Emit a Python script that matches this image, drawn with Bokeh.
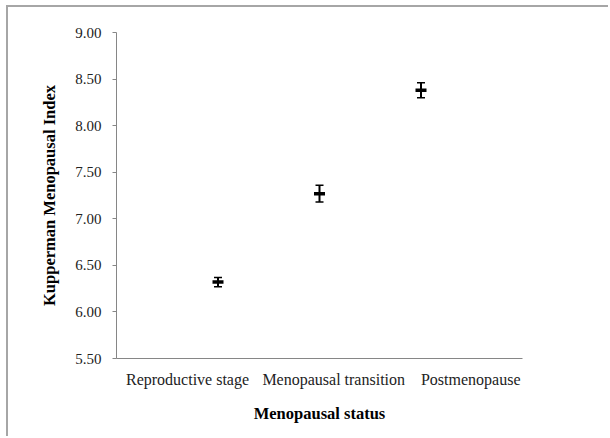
from bokeh.plotting import figure
from bokeh.models import Whisker, ColumnDataSource, FixedTicker, NumeralTickFormatter, Range1d
from bokeh.embed import file_html
from bokeh.resources import INLINE

categories = ["Reproductive stage", "Menopausal transition", "Postmenopause"]
x_pos = [1, 2, 3]
means = [6.32, 7.27, 8.38]
errors = [0.05, 0.09, 0.08]
y_ticks = [5.5, 6.0, 6.5, 7.0, 7.5, 8.0, 8.5, 9.0]

FONT = "Liberation Serif"

# where the category captions sit under the axis (x-axis units, layout only)
caption_pos = [0.70, 2.14, 3.49]

src = ColumnDataSource(dict(
    x=x_pos, y=means,
    lower=[m - e for m, e in zip(means, errors)],
    upper=[m + e for m, e in zip(means, errors)],
))

W, H = 602, 431
p = figure(width=W, height=H, output_backend="svg", toolbar_location=None,
           x_range=Range1d(0, 4), y_range=Range1d(5.5, 9.0),
           min_border_left=108, min_border_top=25, min_border_right=88,
           min_border_bottom=80)
p.margin = (5, 0, 0, 6)
p.styles = {"border-left": "2px solid #a6a6a6", "border-top": "2px solid #a6a6a6"}
p.outline_line_color = None
p.grid.visible = False
p.background_fill_color = "white"
p.border_fill_color = "white"

# y axis
p.yaxis.ticker = FixedTicker(ticks=y_ticks)
p.yaxis.formatter = NumeralTickFormatter(format="0.00")
p.yaxis.axis_line_color = "#868686"
p.yaxis.major_tick_line_color = "#868686"
p.yaxis.major_tick_out = 4
p.yaxis.major_tick_in = 0
p.yaxis.minor_tick_line_color = None
p.yaxis.major_label_text_font = FONT
p.yaxis.major_label_text_font_size = "15px"
p.yaxis.major_label_text_color = "#222222"
p.yaxis.major_label_standoff = 11
p.yaxis.axis_label = "Kupperman Menopausal Index"
p.yaxis.axis_label_text_font = FONT
p.yaxis.axis_label_text_font_style = "bold"
p.yaxis.axis_label_text_font_size = "16.5px"
p.yaxis.axis_label_text_color = "black"
p.yaxis.axis_label_standoff = 13

# x axis: line plus category captions
p.xaxis.ticker = FixedTicker(ticks=caption_pos)
p.xaxis.major_label_overrides = {c: name for c, name in zip(caption_pos, categories)}
p.xaxis.axis_line_color = "#868686"
p.xaxis.major_tick_line_color = None
p.xaxis.major_tick_out = 0
p.xaxis.major_tick_in = 0
p.xaxis.minor_tick_line_color = None
p.xaxis.major_label_text_font = FONT
p.xaxis.major_label_text_font_size = "16px"
p.xaxis.major_label_text_color = "#222222"
p.xaxis.major_label_standoff = 12
p.xaxis.axis_label = "Menopausal status"
p.xaxis.axis_label_text_font = FONT
p.xaxis.axis_label_text_font_style = "bold"
p.xaxis.axis_label_text_font_size = "16.5px"
p.xaxis.axis_label_text_color = "black"
p.xaxis.axis_label_standoff = 13

# error bars and markers
w = Whisker(source=src, base="x", lower="lower", upper="upper", dimension="height",
            line_color="black", line_width=2)
w.upper_head.size = 8
w.lower_head.size = 8
w.upper_head.line_width = 1.5
w.lower_head.line_width = 1.5
w.upper_head.line_color = "black"
w.lower_head.line_color = "black"
p.add_layout(w)
p.scatter("x", "y", source=src, marker="dash", size=11, line_width=3.5, line_color="black")

open("out.html", "w").write(file_html(p, INLINE))
